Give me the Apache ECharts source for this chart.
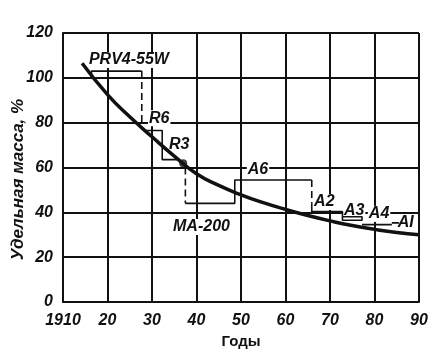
<!DOCTYPE html>
<html><head><meta charset="utf-8">
<script src="https://cdn.jsdelivr.net/npm/echarts@6/dist/echarts.min.js"></script>
<style>html,body{margin:0;padding:0;background:#fff}#c{width:446px;height:363px}</style>
</head><body><div id="c"></div>
<script>
// Curve: year, relative mass %
const curveYears  = [1914.3, 1920, 1925, 1930, 1935, 1940, 1945, 1950, 1955, 1960, 1965, 1970, 1975, 1980, 1985, 1990];
const curveValues = [106.5, 92.5, 82.6, 73.7, 65.1, 57.2, 52, 47.8, 44.3, 41.3, 38.6, 36.2, 34.1, 32.4, 31, 30];
// Marked point on the curve
const dotPoint = [1937, 61.9];
// Engine steps (solid parts)
const stepSolid = [
  [[1916.4, 100], [1916.4, 103], [1927.7, 103]],
  [[1928.2, 76.5], [1932.3, 76.5], [1932.3, 63.5], [1936.3, 63.5]],
  [[1937.5, 44], [1948.6, 44], [1948.6, 54.4], [1965.9, 54.4]],
  [[1965.9, 44], [1965.9, 40.3], [1972.8, 40.3], [1972.8, 36.5], [1977.2, 36.5], [1977.2, 38], [1972.8, 38]],
  [[1977.2, 34.5], [1983.9, 34.5]],
  [[1983.9, 35.3], [1985.5, 35.3]]
];
// Engine steps (dashed drops)
const stepDashed = [
  [[1927.7, 103], [1927.7, 80]],
  [[1937.5, 60], [1937.5, 44]],
  [[1965.9, 54.4], [1965.9, 44]]
];
// Engine labels: text, year, value (left edge / middle)
const engineNames  = ['PRV4-55W', 'R6', 'R3', 'A6', 'MA-200', 'A2', 'A3', 'A4', 'AI'];
const engineYears  = [1915.6, 1929.1, 1933.6, 1951.3, 1934.5, 1966.2, 1972.9, 1978.5, 1985];
const engineValues = [108, 82, 70, 58.9, 33.5, 44.6, 40.6, 39.3, 35.2];
// Axis ticks
const xTicks = [1910, 1920, 1930, 1940, 1950, 1960, 1970, 1980, 1990];
const xTickLabels = ['1910', '20', '30', '40', '50', '60', '70', '80', '90'];
const yTicks = [0, 20, 40, 60, 80, 100, 120];

const FONT = 'Liberation Sans';
const txt = {fontFamily: FONT, fontStyle: 'italic', fontWeight: 'bold', fontSize: 16, color: '#111'};

const series = [];
series.push({
  type: 'line', smooth: true, symbol: 'none',
  data: curveYears.map((y, i) => [y, curveValues[i]]),
  lineStyle: {color: '#111', width: 3.5}, z: 5
});
stepSolid.forEach(s => series.push({
  type: 'line', symbol: 'none', data: s,
  lineStyle: {color: '#111', width: 1.6}, z: 4
}));
stepDashed.forEach(s => series.push({
  type: 'line', symbol: 'none', data: s,
  lineStyle: {color: '#111', width: 1.6, type: [7, 4]}, z: 4
}));
series.push({
  type: 'scatter', data: [dotPoint], symbolSize: 8,
  itemStyle: {color: '#111'}, z: 6
});
series.push({
  type: 'custom',
  data: engineNames.map((n, i) => [engineYears[i], engineValues[i]]),
  renderItem: (params, api) => {
    const p = api.coord([api.value(0), api.value(1)]);
    return {
      type: 'text', x: p[0], y: p[1], z2: 10,
      style: {
        text: engineNames[params.dataIndex],
        font: 'italic bold 16px "Liberation Sans"',
        fill: '#111', align: 'left', verticalAlign: 'middle',
        backgroundColor: '#fff', padding: [0, 1]
      }
    };
  },
  z: 3, silent: true
});

const chart = echarts.init(document.getElementById('c'), null, {renderer: 'canvas'});
chart.setOption({
  backgroundColor: '#fff',
  animation: false,
  grid: {left: 63, right: 27, top: 33, bottom: 61, containLabel: false, outerBoundsMode: 'none'},
  xAxis: {
    type: 'value', min: 1910, max: 1990, interval: 10,
    name: 'Годы', nameLocation: 'middle', nameGap: 32, nameMoveOverlap: false,
    nameTextStyle: {fontFamily: FONT, fontWeight: 'bold', fontSize: 15, color: '#111'},
    axisLine: {lineStyle: {color: '#111', width: 2}},
    axisTick: {show: false},
    axisLabel: Object.assign({margin: 11, formatter: v => xTickLabels[xTicks.indexOf(v)] || ''}, txt),
    splitLine: {show: true, lineStyle: {color: '#111', width: 2}}
  },
  yAxis: {
    type: 'value', min: 0, max: 120, interval: 20,
    name: 'Удельная масса, %', nameLocation: 'middle', nameGap: 36, nameRotate: 90, nameMoveOverlap: false,
    nameTextStyle: Object.assign({}, txt, {fontSize: 17, padding: [0, 24, 0, 0]}),
    axisLine: {show: true, lineStyle: {color: '#111', width: 2}},
    axisTick: {show: false},
    axisLabel: Object.assign({margin: 10, formatter: v => yTicks.includes(v) ? String(v) : ''}, txt),
    splitLine: {show: true, lineStyle: {color: '#111', width: 2}}
  },
  series: series
});
</script></body></html>
